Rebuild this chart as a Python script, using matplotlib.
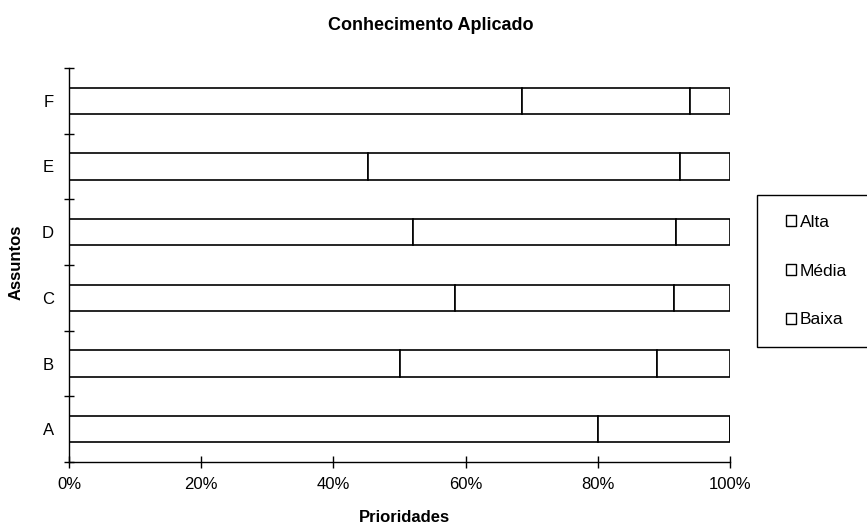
import matplotlib.pyplot as plt
from matplotlib.patches import Patch, Rectangle
from matplotlib.ticker import PercentFormatter
import numpy as np

plt.rcParams['font.family'] = ['Liberation Sans', 'DejaVu Sans']

assuntos = ['A', 'B', 'C', 'D', 'E', 'F']
alta = [80.0, 50.0, 58.4, 52.0, 45.3, 68.6]
media = [20.0, 38.9, 33.2, 39.8, 47.1, 25.4]
baixa = [0.0, 11.1, 8.4, 8.2, 7.6, 6.0]
series = ['Alta', 'Média', 'Baixa']

fig = plt.figure(figsize=(8.67, 5.26), dpi=100)
ax = fig.add_axes([69 / 867, 1 - 462 / 526, 661 / 867, 394 / 526])

y = np.arange(len(assuntos))
left = np.zeros(len(assuntos))
for vals in (alta, media, baixa):
    ax.barh(y, vals, left=left, height=0.4, color='white', edgecolor='black', linewidth=1.2)
    left = left + np.array(vals)

ax.set_xlim(0, 100)
ax.set_ylim(-0.5, len(assuntos) - 0.5)
ax.xaxis.set_major_formatter(PercentFormatter(decimals=0))
ax.set_xticks(np.arange(0, 101, 20))
ax.tick_params(axis='x', direction='inout', length=8, width=1, labelsize=12, pad=7)

# labels at the bar centres, tick marks between categories
ax.set_yticks(y)
ax.set_yticklabels(assuntos)
ax.tick_params(axis='y', which='major', length=0, labelsize=12, pad=11)
ax.set_yticks(np.arange(-0.5, len(assuntos), 1), minor=True)
ax.tick_params(axis='y', which='minor', direction='inout', length=7, width=1)

for side in ('top', 'right'):
    ax.spines[side].set_visible(False)
for side in ('left', 'bottom'):
    ax.spines[side].set_linewidth(1)

fig.text(0.497, 1 - 25 / 526, 'Conhecimento Aplicado', ha='center', va='center',
         fontsize=13, fontweight='bold')
fig.text(0.466, 1 - 518 / 526, 'Prioridades', ha='center', va='center',
         fontsize=12, fontweight='bold')
fig.text(16 / 867, 1 - 262 / 526, 'Assuntos', ha='center', va='center',
         fontsize=12, fontweight='bold', rotation=90)

# legend box runs off the right edge of the figure
fig.patches.append(Rectangle((757 / 867, 1 - 347 / 526), 120 / 867, 152 / 526,
                             transform=fig.transFigure, facecolor='white',
                             edgecolor='black', linewidth=1, clip_on=False))
handles = [Patch(facecolor='white', edgecolor='black', linewidth=1) for _ in series]
fig.legend(handles, series, loc='center left', bbox_to_anchor=(777 / 867, 1 - 271 / 526),
           frameon=False, fontsize=12.5, handlelength=0.6, handleheight=0.6,
           handletextpad=0.2, labelspacing=1.95, borderpad=0)

fig.savefig('out.png', dpi=100)
